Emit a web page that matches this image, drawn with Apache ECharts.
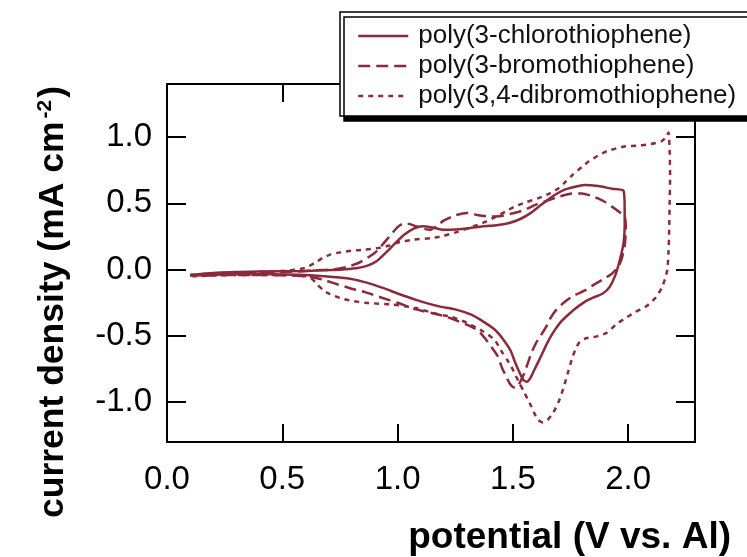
<!DOCTYPE html>
<html>
<head>
<meta charset="utf-8">
<script src="https://cdn.jsdelivr.net/npm/echarts@6/dist/echarts.min.js"></script>
<style>
  html, body { margin: 0; padding: 0; background: #ffffff; }
  #chart { width: 747px; height: 557px; }
</style>
</head>
<body>
<div id="chart"></div>
<script>
// Cyclic voltammograms of three polythiophene films (current density vs potential)
const seriesNames = ['poly(3-chlorothiophene)', 'poly(3-bromothiophene)', 'poly(3,4-dibromothiophene)'];

const potentialTicks = [0, 0.5, 1.0, 1.5, 2.0];
const currentTicks = [-1.0, -0.5, 0, 0.5, 1.0];

// poly(3-chlorothiophene): anodic sweep, reversal at 2.0 V, cathodic sweep
const clPotential = [0.10, 0.20, 0.40, 0.60, 0.75, 0.82, 0.87, 0.91, 0.95, 0.99, 1.03, 1.07, 1.11, 1.15, 1.20, 1.25, 1.31, 1.37, 1.43, 1.48, 1.53, 1.58, 1.62, 1.67, 1.72, 1.77, 1.81, 1.87, 1.93, 1.98,
  1.985, 1.985, 1.98, 1.965, 1.945, 1.92, 1.89, 1.85, 1.81, 1.77, 1.74, 1.71, 1.68, 1.65, 1.62, 1.595, 1.575, 1.56, 1.545, 1.53, 1.51, 1.49, 1.46, 1.42, 1.37, 1.32, 1.25, 1.18, 1.08, 1.00, 0.94, 0.87, 0.80, 0.72, 0.60, 0.45, 0.30, 0.12];
const clCurrent = [-0.04, -0.025, -0.015, -0.01, 0.0, 0.01, 0.03, 0.065, 0.13, 0.20, 0.265, 0.31, 0.327, 0.318, 0.30, 0.302, 0.312, 0.327, 0.335, 0.35, 0.38, 0.43, 0.485, 0.55, 0.60, 0.625, 0.638, 0.63, 0.61, 0.595,
  0.45, 0.33, 0.20, 0.08, -0.04, -0.13, -0.18, -0.21, -0.245, -0.295, -0.34, -0.39, -0.46, -0.55, -0.66, -0.75, -0.82, -0.845, -0.83, -0.78, -0.70, -0.61, -0.53, -0.45, -0.39, -0.34, -0.30, -0.277, -0.228, -0.18, -0.14, -0.10, -0.07, -0.055, -0.04, -0.035, -0.033, -0.045];

// poly(3-bromothiophene)
const brPotential = [0.10, 0.20, 0.40, 0.55, 0.65, 0.72, 0.78, 0.83, 0.87, 0.91, 0.94, 0.97, 1.00, 1.025, 1.05, 1.08, 1.11, 1.14, 1.17, 1.20, 1.25, 1.30, 1.35, 1.40, 1.45, 1.50, 1.55, 1.60, 1.65, 1.70, 1.75, 1.80, 1.85, 1.90, 1.95, 1.985,
  1.99, 1.985, 1.975, 1.96, 1.93, 1.89, 1.85, 1.82, 1.76, 1.72, 1.69, 1.665, 1.645, 1.62, 1.60, 1.58, 1.565, 1.55, 1.535, 1.515, 1.50, 1.485, 1.47, 1.455, 1.435, 1.41, 1.38, 1.35, 1.30, 1.23, 1.18, 1.08, 1.00, 0.935, 0.86, 0.79, 0.72, 0.675, 0.62, 0.55, 0.40, 0.25, 0.11];
const brCurrent = [-0.045, -0.03, -0.02, -0.015, -0.005, 0.0, 0.02, 0.05, 0.09, 0.14, 0.20, 0.26, 0.32, 0.347, 0.345, 0.327, 0.31, 0.30, 0.33, 0.37, 0.41, 0.428, 0.41, 0.40, 0.405, 0.425, 0.45, 0.49, 0.52, 0.55, 0.573, 0.575, 0.55, 0.51, 0.45, 0.40,
  0.30, 0.18, 0.10, 0.03, -0.03, -0.075, -0.115, -0.15, -0.20, -0.25, -0.30, -0.36, -0.43, -0.50, -0.555, -0.63, -0.705, -0.78, -0.835, -0.89, -0.885, -0.855, -0.80, -0.75, -0.655, -0.59, -0.52, -0.46, -0.415, -0.367, -0.34, -0.30, -0.25, -0.214, -0.17, -0.138, -0.10, -0.075, -0.055, -0.045, -0.04, -0.04, -0.05];

// poly(3,4-dibromothiophene), reversal at 2.18 V
const dbrPotential = [0.10, 0.20, 0.35, 0.50, 0.56, 0.60, 0.64, 0.675, 0.71, 0.75, 0.80, 0.85, 0.92, 0.96, 0.99, 1.03, 1.07, 1.15, 1.20, 1.26, 1.33, 1.38, 1.43, 1.47, 1.51, 1.56, 1.615, 1.66, 1.70, 1.73, 1.76, 1.80, 1.83, 1.87, 1.91, 1.95, 1.99, 2.04, 2.08, 2.12, 2.145, 2.165, 2.175,
  2.18, 2.182, 2.18, 2.178, 2.175, 2.17, 2.16, 2.145, 2.12, 2.08, 2.03, 1.99, 1.95, 1.905, 1.86, 1.82, 1.79, 1.772, 1.755, 1.74, 1.72, 1.70, 1.675, 1.65, 1.63, 1.61, 1.595, 1.58, 1.565, 1.545, 1.528, 1.51, 1.493, 1.475, 1.456, 1.42, 1.37, 1.30, 1.225, 1.18, 1.08, 0.98, 0.86, 0.80, 0.75, 0.70, 0.675, 0.65, 0.632, 0.60, 0.50, 0.30, 0.12];
const dbrCurrent = [-0.04, -0.03, -0.02, -0.01, 0.0, 0.013, 0.05, 0.088, 0.115, 0.13, 0.142, 0.15, 0.164, 0.18, 0.20, 0.215, 0.226, 0.239, 0.255, 0.285, 0.327, 0.36, 0.402, 0.44, 0.478, 0.51, 0.541, 0.575, 0.616, 0.665, 0.717, 0.775, 0.817, 0.86, 0.895, 0.915, 0.93, 0.935, 0.943, 0.955, 0.968, 1.0, 1.035,
  0.90, 0.70, 0.50, 0.30, 0.13, 0.0, -0.07, -0.14, -0.21, -0.275, -0.32, -0.365, -0.41, -0.478, -0.505, -0.516, -0.545, -0.60, -0.68, -0.77, -0.89, -0.99, -1.08, -1.135, -1.152, -1.135, -1.09, -1.03, -0.98, -0.91, -0.855, -0.79, -0.73, -0.68, -0.63, -0.528, -0.465, -0.40, -0.352, -0.34, -0.29, -0.264, -0.25, -0.235, -0.214, -0.18, -0.15, -0.11, -0.075, -0.05, -0.04, -0.04, -0.05];

const lineColor = '#8a2a3b';
const font = '"Liberation Sans", Arial, Helvetica, sans-serif';

function pairs(xs, ys) {
  return xs.map((x, i) => [x, ys[i]]);
}

function curve(name, xs, ys, dash) {
  return {
    name: name,
    type: 'line',
    data: pairs(xs, ys),
    symbol: 'none',
    showSymbol: false,
    smooth: 0.2,
    lineStyle: { color: lineColor, width: 2.5, type: dash },
    itemStyle: { color: lineColor },
    z: 3
  };
}

const frameLine = { show: true, onZero: false, lineStyle: { color: '#000', width: 2 } };
const tickStyle = { lineStyle: { color: '#000', width: 2 } };

const chart = echarts.init(document.getElementById('chart'), null, { renderer: 'canvas' });

chart.setOption({
  animation: false,
  backgroundColor: '#ffffff',
  grid: { left: 167, right: 52, top: 84, bottom: 115, containLabel: false },
  xAxis: [
    {
      type: 'value', position: 'bottom', min: 0, max: 2.29,
      axisLine: frameLine,
      axisTick: Object.assign({ show: true, inside: true, length: 18, customValues: potentialTicks }, tickStyle),
      axisLabel: {
        show: true, customValues: potentialTicks, margin: 21,
        formatter: v => v.toFixed(1),
        color: '#000', fontFamily: font, fontSize: 33, lineHeight: 33
      },
      splitLine: { show: false }
    },
    {
      type: 'value', position: 'top', min: 0, max: 2.29,
      axisLine: frameLine,
      axisTick: Object.assign({ show: true, inside: true, length: 18, customValues: potentialTicks }, tickStyle),
      axisLabel: { show: false },
      splitLine: { show: false }
    }
  ],
  yAxis: [
    {
      type: 'value', position: 'left', min: -1.3, max: 1.4,
      axisLine: frameLine,
      axisTick: Object.assign({ show: true, inside: true, length: 19, customValues: currentTicks }, tickStyle),
      axisLabel: {
        show: true, customValues: currentTicks, margin: 15,
        formatter: v => v.toFixed(1),
        color: '#000', fontFamily: font, fontSize: 33, lineHeight: 33
      },
      splitLine: { show: false }
    },
    {
      type: 'value', position: 'right', min: -1.3, max: 1.4,
      axisLine: frameLine,
      axisTick: Object.assign({ show: true, inside: true, length: 19, customValues: currentTicks }, tickStyle),
      axisLabel: { show: false },
      splitLine: { show: false }
    }
  ],
  legend: {
    data: seriesNames,
    orient: 'vertical',
    left: 340,
    top: 12,
    padding: [11, 30, 7, 17],
    itemWidth: 50,
    itemHeight: 14,
    itemGap: 4,
    backgroundColor: '#ffffff',
    borderColor: '#000',
    borderWidth: 1.5,
    borderRadius: 0,
    shadowColor: '#000',
    shadowBlur: 0,
    shadowOffsetX: 4,
    shadowOffsetY: 5,
    itemStyle: { color: 'rgba(0,0,0,0)', borderWidth: 0, opacity: 0 },
    lineStyle: { width: 2.5 },
    textStyle: { fontFamily: font, fontSize: 26, lineHeight: 26, color: '#111', padding: [0, 0, 0, 5] },
    z: 10
  },
  graphic: [
    {
      type: 'text', x: 731, y: 538, z: 10,
      style: {
        text: 'potential (V vs. Al)',
        font: 'bold 37px ' + font,
        fill: '#000', align: 'right', verticalAlign: 'middle'
      }
    },
    {
      type: 'text', x: 53, y: 302, rotation: Math.PI / 2, z: 10,
      style: {
        text: '{t|current density (mA cm}{s|-2}{t|)}',
        align: 'center', verticalAlign: 'middle',
        rich: {
          t: { fontFamily: font, fontWeight: 'bold', fontSize: 35.5, fill: '#000' },
          s: { fontFamily: font, fontWeight: 'bold', fontSize: 21, fill: '#000', verticalAlign: 'top', padding: [0, 2, 0, 3] }
        }
      }
    }
  ],
  series: [
    curve(seriesNames[0], clPotential, clCurrent, 'solid'),
    curve(seriesNames[1], brPotential, brCurrent, [12, 6]),
    curve(seriesNames[2], dbrPotential, dbrCurrent, [5, 5])
  ]
});
</script>
</body>
</html>
